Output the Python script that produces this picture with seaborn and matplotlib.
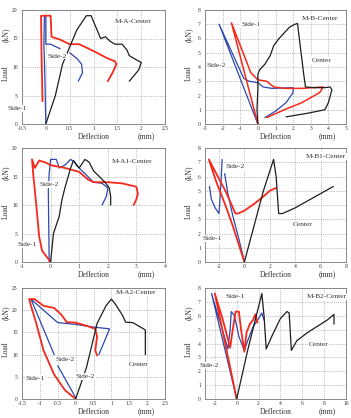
import numpy as np
import pandas as pd
import matplotlib
matplotlib.use("Agg")
import matplotlib.pyplot as plt
import seaborn as sns

# --- Daten ---
# M-A
ma_center_x = [0, 0.2, 0.35, 0.5, 0.65, 0.85, 0.95, 1.05, 1.15, 1.25, 1.35, 1.45, 1.6, 1.7, 1.75, 1.85, 2.0, 1.95, 1.85, 1.75]
ma_center_y = [0, 5, 10.5, 13.5, 16.5, 19, 19, 17, 15, 15.3, 14.5, 14, 14, 13, 12, 11.5, 10.8, 9.5, 8.5, 7.5]
ma_side1_x = [-0.07, -0.09, -0.1, 0.1, 0.12, 0.3, 0.5, 0.7, 1.0, 1.3, 1.45, 1.48, 1.4, 1.3]
ma_side1_y = [4, 12, 19, 19, 15.3, 14.8, 14, 14, 12.8, 11.5, 11, 10.5, 9, 7.5]
ma_side2_x = [0, -0.02, -0.04, -0.03, 0, 0, 0.1, 0.3, np.nan, 0.5, 0.65, 0.75, 0.77, 0.68]
ma_side2_y = [0, 8, 14, 19, 19, 14, 14, 13.2, np.nan, 12.5, 11.5, 10.5, 9, 7.5]

# M-B
mb_center_x = [0, -0.05, 0, 0, 0.1, 0.4, 0.7, 0.9, 1.2, 1.5, 1.8, 2.1, 2.25, 2.4, 2.6, 2.7, 3.2, 3.8, 4.1, 4.2, 4.0, 3.8, 2.8, 1.6]
mb_center_y = [0, 1.0, 2.5, 3.5, 3.8, 4.2, 4.8, 5.5, 6.0, 6.4, 6.8, 7.0, 7.05, 5.5, 3.5, 2.6, 2.55, 2.55, 2.6, 2.4, 1.5, 1.0, 0.75, 0.5]
mb_side1_x = [0, -1.5, -0.4, 0, 0.5, 0.9, 1.5, 2.5, 3.7, 3.5, 2.5, 1.5, 0.5]
mb_side1_y = [0, 7.1, 3.6, 3.1, 3.0, 2.6, 2.5, 2.5, 2.6, 2.2, 1.5, 1.0, 0.45]
mb_side2_x = [0, -2.2, -0.8, -0.5, 0, 0.3, 0.8, 2.0, 2.0, 1.6, 1.0, 0.4]
mb_side2_y = [0, 7.0, 3.2, 3.0, 2.9, 2.6, 2.5, 2.55, 2.2, 1.5, 0.9, 0.45]

# M-A1
ma1_center_x = [0, 0.1, 0.3, 0.4, 0.5, 0.7, 0.8, 0.9, 1.0, 1.2, 1.35, 1.5, 1.7, 1.9, 2.05, 2.1, 2.1]
ma1_center_y = [0, 5, 8, 11, 13, 16.5, 17.8, 17, 16.5, 18, 17.5, 16, 15, 14, 13, 11.5, 10]
ma1_side1_x = [0, -0.3, -0.4, -0.5, -0.6, -0.65, -0.55, -0.4, -0.2, 0, 0.5, 1.0, 1.3, 1.5, 2.0, 2.5, 3.0, 3.05, 3.0, 2.9]
ma1_side1_y = [0, 2, 4.5, 10, 15, 18, 16.5, 17.8, 17.5, 17, 16.5, 15.8, 14.5, 14, 14, 13.8, 13.2, 12, 11, 10]
ma1_side2_x = [-0.05, -0.08, -0.05, 0, 0.2, 0.3, 0.5, 0.7, 0.85, 1.0, 1.3, 1.5, 1.8, 2.0, 1.95, 1.8]
ma1_side2_y = [0, 12.5, 15.5, 18, 18, 16.5, 17, 18, 17.5, 16.5, 15, 14, 13.8, 13, 11.5, 10]

# M-B1
mb1_center_x = [0, 1.5, 2.3, 2.5, 2.7, 3.0, 4.0, 5.0, 6.0, 7.0]
mb1_center_y = [0, 5, 7.2, 6, 3.4, 3.4, 3.8, 4.3, 4.8, 5.3]
mb1_side1_x = [0, -0.9, -1.5, -2.2, -2.8, -1.5, -0.7, -0.5, 0, 0.8, 1.5, 2.0, 2.5]
mb1_side1_y = [0, 2.5, 4, 5.6, 7.2, 5, 3.4, 3.4, 3.6, 4.1, 4.6, 5.0, 5.2]
mb1_side2_x = [0, -0.4, -0.9, -1.3, -1.55, np.nan, -1.75, -1.85, -1.95, -2.0, -2.3, -2.6, -2.75]
mb1_side2_y = [0, 1.5, 3.2, 4.8, 6.2, np.nan, 7.2, 5.5, 4.0, 3.4, 3.8, 4.4, 5.3]

# M-A2
ma2_center_x = [0, 0.3, 0.45, 0.6, 0.85, 1.0, 1.1, 1.3, 1.4, 1.6, 1.75, 1.9, 1.95, 1.95, 1.95]
ma2_center_y = [0, 7, 12, 17, 21, 22.5, 21.5, 19, 17.3, 17.2, 16.5, 15.8, 15.5, 12, 10]
ma2_side1_x = [0, -0.3, -0.6, -0.9, -1.1, -1.25, -1.3, -1.15, -0.9, -0.6, -0.4, -0.25, 0, 0.3, 0.55, 0.6, 0.55, 0.6]
ma2_side1_y = [0, 2, 5.5, 11, 17, 21, 22.5, 22.5, 21, 20.5, 19, 17.3, 17.2, 16.5, 15.8, 14, 11, 9.8]
ma2_side2_x = [0, -0.5, np.nan, -0.6, -1.25, -0.5, 0, 0.5, 0.95, 0.65]
ma2_side2_y = [0.3, 7.5, np.nan, 10, 22.5, 17.2, 16.8, 16.2, 15.8, 10]

# M-B2
mb2_center_x = [0, 1, 2.3, 2.5, 2.7, 3.2, 4, 4.6, 4.8, 5.0, 5.5, 6.5, 7.5, 8.3, 8.9, 8.9]
mb2_center_y = [0, 3.5, 7.6, 6, 3.6, 4.5, 5.8, 6.3, 6.2, 3.5, 4.2, 4.8, 5.3, 5.7, 6.1, 5.4]
mb2_side1_x = [0, -1, -2.0, -1.3, -0.6, -0.4, -0.1, 0.2, 0.4, 0.7, 0.9, 1.2, 1.5, 1.7, 1.9]
mb2_side1_y = [0, 3.8, 7.6, 5.8, 3.7, 4.8, 6.3, 6.3, 5, 3.4, 4.8, 5.4, 5.7, 6.1, 5.5]
mb2_side2_x = [0, -2.3, -1.5, -0.8, -0.6, -0.5, -0.2, 0.2, 0.7, 1.0, 1.5, 2.0, 2.3, 2.5]
mb2_side2_y = [0, 7.6, 5.5, 3.6, 5, 6.3, 6.0, 4.5, 3.5, 4.2, 5.2, 5.8, 6.2, 5.7]

RED = "#f4291c"
BLUE = "#2c48b0"
BLACK = "#1e1e1e"

sns.set_style("whitegrid")
plt.rcParams["font.family"] = ["Liberation Serif", "DejaVu Serif"]

fig = plt.figure(figsize=(3.51, 4.18), dpi=100)

col_left = [22 / 351, 205 / 351]
col_w = [143 / 351, 141 / 351]
row_bottom = [1 - 124 / 418, 1 - 262 / 418, 1 - 399 / 418]
row_h = [114 / 418, 114 / 418, 111 / 418]


def draw(ax, x, y, color, lw):
    # an NaN-Stellen auftrennen, damit Luecken sichtbar bleiben
    df = pd.DataFrame({"x": x, "y": y})
    df["seg"] = df["y"].isna().cumsum()
    df = df.dropna()
    for _, part in df.groupby("seg"):
        sns.lineplot(data=part, x="x", y="y", sort=False, estimator=None,
                     color=color, lw=lw, ax=ax)


def setup(ax, xlim, xticks, xlabels, ylim, yticks):
    ax.set_xlim(*xlim)
    ax.set_ylim(*ylim)
    ax.set_xticks(xticks)
    ax.set_xticklabels(xlabels)
    ax.set_yticks(yticks)
    ax.set_yticklabels([str(t) for t in yticks])
    ax.set_xlabel("")
    ax.set_ylabel("")
    ax.grid(True, color="#8a8a8a", linestyle=":", linewidth=0.5)
    for s in ax.spines.values():
        s.set_color("#777777")
        s.set_linewidth(0.6)
    ax.tick_params(labelsize=4, length=1.5, width=0.4, direction="in",
                   colors="#333333")
    ax.tick_params(axis="x", pad=1.5)
    ax.tick_params(axis="y", pad=3)
    ax.text(0.5, -0.115, "Deflection", transform=ax.transAxes, fontsize=5.5,
            ha="center", va="center", color="#333333")
    ax.text(0.87, -0.115, "(mm)", transform=ax.transAxes, fontsize=5.5,
            ha="center", va="center", color="#333333")
    ax.text(-0.115, 0.45, "Load", transform=ax.transAxes, fontsize=5.5,
            rotation=90, ha="center", va="center", color="#333333")
    ax.text(-0.115, 0.78, "(kN)", transform=ax.transAxes, fontsize=5.5,
            rotation=90, ha="center", va="center", color="#333333")


def label(ax, x, y, s):
    ax.text(x, y, s, fontsize=5.3, ha="center", va="center", color="#333333",
            clip_on=False, zorder=5,
            bbox=dict(facecolor="white", edgecolor="none", pad=0.6))


def fmt(vals):
    out = []
    for v in vals:
        out.append(str(int(v)) if float(v).is_integer() else str(v))
    return out


# M-A
ax = fig.add_axes([col_left[0], row_bottom[0], col_w[0], row_h[0]])
draw(ax, ma_side2_x, ma_side2_y, BLUE, 0.9)
draw(ax, ma_side1_x, ma_side1_y, RED, 1.3)
draw(ax, ma_center_x, ma_center_y, BLACK, 0.9)
xt = [-0.5, 0, 0.5, 1, 1.5, 2, 2.5]
setup(ax, (-0.5, 2.5), xt, fmt(xt), (0, 20), [0, 5, 10, 15, 20])
label(ax, 1.84, 17.9, "M-A-Center")
label(ax, 0.23, 11.9, "Side-2")
label(ax, -0.6, 2.7, "Side-1")

# M-B
ax = fig.add_axes([col_left[1], row_bottom[0], col_w[1], row_h[0]])
draw(ax, mb_side2_x, mb_side2_y, BLUE, 0.9)
draw(ax, mb_side1_x, mb_side1_y, RED, 1.1)
draw(ax, mb_center_x, mb_center_y, BLACK, 0.9)
xt = [-3, -2, -1, 0, 1, 2, 3, 4, 5]
setup(ax, (-3, 5), xt, fmt(xt), (0, 8), list(range(0, 9)))
label(ax, 3.5, 7.4, "M-B-Center")
label(ax, -0.4, 7.0, "Side-1")
label(ax, -2.37, 4.1, "Side-2")
label(ax, 3.6, 4.45, "Center")

# M-A1
ax = fig.add_axes([col_left[0], row_bottom[1], col_w[0], row_h[1]])
draw(ax, ma1_side2_x, ma1_side2_y, BLUE, 0.9)
draw(ax, ma1_side1_x, ma1_side1_y, RED, 1.3)
draw(ax, ma1_center_x, ma1_center_y, BLACK, 0.9)
xt = [-1, 0, 1, 2, 3, 4]
setup(ax, (-1, 4), xt, fmt(xt), (0, 20), [0, 5, 10, 15, 20])
label(ax, 2.86, 17.6, "M-A1-Center")
label(ax, -0.05, 13.6, "Side-2")
label(ax, -0.83, 3.1, "Side-1")

# M-B1
ax = fig.add_axes([col_left[1], row_bottom[1], col_w[1], row_h[1]])
draw(ax, mb1_side2_x, mb1_side2_y, BLUE, 0.9)
draw(ax, mb1_side1_x, mb1_side1_y, RED, 1.3)
draw(ax, mb1_center_x, mb1_center_y, BLACK, 0.9)
xt = [-2, 0, 2, 4, 6, 8]
setup(ax, (-3.1, 8), xt, fmt(xt), (0, 8), list(range(0, 9)))
label(ax, 6.4, 7.4, "M-B1-Center")
label(ax, -0.73, 6.7, "Side-2")
label(ax, -2.55, 1.65, "Side-1")
label(ax, 4.6, 2.65, "Center")

# M-A2
ax = fig.add_axes([col_left[0], row_bottom[2], col_w[0], row_h[2]])
draw(ax, ma2_side2_x, ma2_side2_y, BLUE, 0.9)
draw(ax, ma2_side1_x, ma2_side1_y, RED, 1.3)
draw(ax, ma2_center_x, ma2_center_y, BLACK, 0.9)
xt = [-1.5, -1, -0.5, 0, 0.5, 1, 1.5, 2, 2.5]
setup(ax, (-1.5, 2.5), xt, fmt(xt), (0, 25), [0, 5, 10, 15, 20, 25])
label(ax, 1.68, 23.9, "M-A2-Center")
label(ax, -0.29, 9.0, "Side-2")
label(ax, 0.26, 5.1, "Side-2")
label(ax, -1.12, 4.7, "Side-1")
label(ax, 1.77, 7.7, "Center")

# M-B2
ax = fig.add_axes([col_left[1], row_bottom[2], col_w[1], row_h[2]])
draw(ax, mb2_side2_x, mb2_side2_y, BLUE, 0.9)
draw(ax, mb2_side1_x, mb2_side1_y, RED, 1.3)
draw(ax, mb2_center_x, mb2_center_y, BLACK, 0.9)
xt = [-2, 0, 2, 4, 6, 8, 10]
setup(ax, (-2.9, 10), xt, fmt(xt), (0, 8), list(range(0, 9)))
label(ax, 8.2, 7.36, "M-B2-Center")
label(ax, -0.1, 7.36, "Side-1")
label(ax, -2.5, 2.4, "Side-2")
label(ax, 7.5, 3.95, "Center")

fig.savefig("out.png", dpi=100)
